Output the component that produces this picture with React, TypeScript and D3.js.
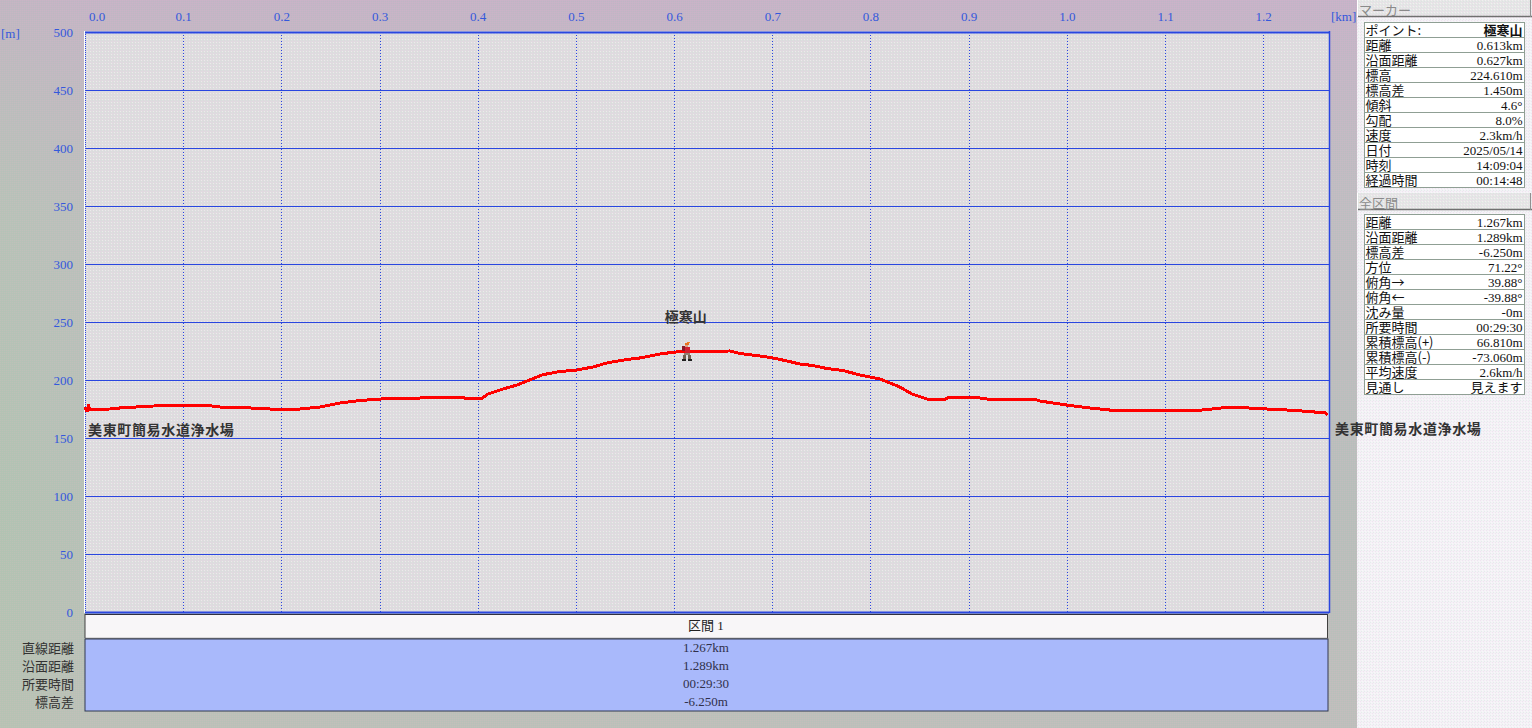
import React from "react";
import * as d3 from "d3";

const distanceKm = [0, 0.001, 0.0025, 0.0036, 0.0046, 0.0255, 0.0356, 0.0743, 0.0866, 0.1222, 0.1375, 0.168, 0.1884, 0.2189, 0.2393, 0.2597, 0.2804, 0.3004, 0.331, 0.3635, 0.3849, 0.387, 0.4043, 0.4104, 0.4257, 0.4399, 0.4501, 0.4664, 0.4837, 0.501, 0.5173, 0.5316, 0.5519, 0.5652, 0.5855, 0.6008, 0.613, 0.6568, 0.667, 0.6874, 0.7006, 0.7108, 0.7281, 0.7413, 0.7556, 0.7719, 0.7892, 0.8096, 0.8299, 0.8422, 0.8605, 0.8737, 0.8788, 0.9114, 0.9246, 0.9695, 0.9725, 1.0, 1.0234, 1.0438, 1.0876, 1.0896, 1.1273, 1.1436, 1.1578, 1.1843, 1.2118, 1.2322, 1.2525, 1.2627, 1.2658];
const elevationM = [176.7, 174.1, 174.1, 179.3, 174.6, 175, 175.9, 177.8, 178.4, 178.4, 176.7, 175.9, 175, 175, 176.7, 180.2, 182.3, 183.6, 184.1, 185.3, 185.3, 184.1, 184.1, 187.9, 192.2, 195.7, 199.1, 204.6, 207.3, 208.6, 211.2, 214.7, 217.7, 219, 222.4, 224.1, 224.6, 225, 222.8, 220.7, 219, 217.2, 213.8, 212.5, 209.9, 208.2, 204.3, 200.9, 194, 187.9, 182.8, 182.8, 184.5, 184.5, 182.8, 182.8, 181.9, 178.4, 175.9, 174.1, 174.1, 173.3, 173.3, 174.6, 175.9, 175.9, 174.6, 173.8, 172.4, 172.4, 169.8];

const xTicks = [0, 0.1, 0.2, 0.3, 0.4, 0.5, 0.6, 0.7, 0.8, 0.9, 1.0, 1.1, 1.2];
const yTicks = [0, 50, 100, 150, 200, 250, 300, 350, 400, 450, 500];

const markerRows: [string, string][] = [
  ["ポイント:", "極寒山"], ["距離", "0.613km"], ["沿面距離", "0.627km"], ["標高", "224.610m"],
  ["標高差", "1.450m"], ["傾斜", "4.6°"], ["勾配", "8.0%"], ["速度", "2.3km/h"],
  ["日付", "2025/05/14"], ["時刻", "14:09:04"], ["経過時間", "00:14:48"],
];
const totalRows: [string, string][] = [
  ["距離", "1.267km"], ["沿面距離", "1.289km"], ["標高差", "-6.250m"], ["方位", "71.22°"],
  ["俯角→", "39.88°"], ["俯角←", "-39.88°"], ["沈み量", "-0m"], ["所要時間", "00:29:30"],
  ["累積標高(+)", "66.810m"], ["累積標高(-)", "-73.060m"], ["平均速度", "2.6km/h"], ["見通し", "見えます"],
];
const sectionLabels = ["直線距離", "沿面距離", "所要時間", "標高差"];
const sectionValues = ["1.267km", "1.289km", "00:29:30", "-6.250m"];
const startName = "美東町簡易水道浄水場";
const peakName = "極寒山";
const peakKm = 0.613;
const peakM = 224.61;

const JP = '"Noto Sans CJK JP", sans-serif';
const NUM = '"Liberation Serif", "Noto Sans CJK JP", serif';
const AXIS = "#3458dc";
const GRID = "#2a46e0";

// small hiker glyph: [x, y, w, h, colour] around the marker foot point
const hiker: [number, number, number, number, string][] = [
  [0, -9, 3, 1, "#f08020"], [-2, -8, 4, 2, "#e87020"], [-2, -6, 3, 2, "#d8a080"],
  [-5, -5, 3, 5, "#8a1828"], [-2, -4, 5, 6, "#d02030"], [-3, 2, 6, 2, "#908070"],
  [-4, 4, 3, 4, "#706050"], [1, 4, 3, 4, "#706050"], [-5, 8, 4, 2, "#202020"], [1, 8, 4, 2, "#202020"],
];

function InfoTable({ rows, top, rowH }: { rows: [string, string][]; top: number; rowH: number }) {
  const left = 1364.5, right = 1524.5;
  return (
    <g>
      <rect x={left} y={top} width={right - left} height={rows.length * rowH} fill="#ffffff" stroke="#8f9f94" strokeWidth={1} />
      {rows.map((r, i) => {
        const y = top + i * rowH;
        const jpValue = /[^\x00-\x7f°]/.test(r[1]);
        return (
          <g key={r[0]}>
            {i > 0 && <line x1={left} x2={right} y1={y} y2={y} stroke="#8f9f94" />}
            <text x={left + 1} y={y + 12} fontFamily={JP} fontSize={13} fill="#111">{r[0]}</text>
            <text x={right - 2} y={y + 12} textAnchor="end" fontFamily={jpValue ? JP : NUM}
              fontSize={13} fontWeight={i === 0 && rows.length === 11 ? 700 : 400} fill="#111">{r[1]}</text>
          </g>
        );
      })}
    </g>
  );
}

function PanelHeader({ label, y, h }: { label: string; y: number; h: number }) {
  return (
    <g>
      <rect x={1357.5} y={y} width={174} height={h} fill="#e6e6e6" />
      <rect x={1357.5} y={y} width={174} height={h} fill="url(#dither2)" />
      <line x1={1358} x2={1532} y1={y + h - 0.5} y2={y + h - 0.5} stroke="#707070" strokeWidth={1.5} />
      <line x1={1530.5} x2={1530.5} y1={y} y2={y + h} stroke="#909090" />
      <line x1={1357.5} x2={1357.5} y1={y} y2={y + h} stroke="#ffffff" />
      <text x={1359} y={y + h - 2} fontFamily={JP} fontSize={13} fill="#8a8a8a">{label}</text>
    </g>
  );
}

export default function App() {
  const x = d3.scaleLinear().domain([0, 1.267]).range([85, 1329]);
  const y = d3.scaleLinear().domain([0, 500]).range([612, 32]);
  const line = d3.line<number>().x((d) => x(d)).y((_, i) => y(elevationM[i])).curve(d3.curveLinear);
  const px = x(peakKm), py = y(peakM);
  return (
    <svg width={1532} height={728} style={{ position: "absolute", left: 0, top: 0, display: "block" }}>
      <defs>
        <linearGradient id="bgH" x1="0" x2="1" y1="0" y2="0">
          <stop offset="0" stopColor="#b4c4b0" />
          <stop offset="0.06" stopColor="#bcc0b8" />
          <stop offset="1" stopColor="#c0bcc0" />
        </linearGradient>
        <linearGradient id="bgV" x1="0" x2="0" y1="0" y2="1">
          <stop offset="0" stopColor="#d0a8d0" stopOpacity={0.55} />
          <stop offset="0.3" stopColor="#c4bcc4" stopOpacity={0.3} />
          <stop offset="0.7" stopColor="#b0c0b0" stopOpacity={0.35} />
          <stop offset="1" stopColor="#c0c0b4" stopOpacity={0.4} />
        </linearGradient>
        <pattern id="dither" width={2} height={2} patternUnits="userSpaceOnUse">
          <rect width={1} height={1} fill="#d8c0d0" fillOpacity={0.2} />
          <rect x={1} y={1} width={1} height={1} fill="#a0c8c0" fillOpacity={0.25} />
        </pattern>
        <pattern id="dither2" width={3} height={3} patternUnits="userSpaceOnUse">
          <rect width={1} height={1} fill="#ffffff" fillOpacity={0.4} />
          <rect x={2} y={1} width={1} height={1} fill="#c8e0d8" fillOpacity={0.35} />
          <rect x={1} y={2} width={1} height={1} fill="#e8c8e8" fillOpacity={0.35} />
        </pattern>
      </defs>
      <rect width={1532} height={728} fill="url(#bgH)" />
      <rect width={1532} height={728} fill="url(#bgV)" />
      <rect width={1532} height={728} fill="url(#dither)" />

      {/* plot background */}
      <rect x={84} y={31} width={1246} height={582} fill="#dedcde" />
      <rect x={84} y={31} width={1246} height={582} fill="url(#dither2)" />

      {/* grid */}
      {yTicks.map((t) => (
        <line key={t} x1={85} x2={1329} y1={Math.round(y(t)) + 0.5} y2={Math.round(y(t)) + 0.5} stroke={GRID} strokeWidth={t === 0 || t === 500 ? 2 : 1} />
      ))}
      {xTicks.slice(1).map((t) => (
        <line key={t} x1={Math.round(x(t)) + 0.5} x2={Math.round(x(t)) + 0.5} y1={32} y2={612} stroke={GRID} strokeWidth={1} strokeDasharray="1 2" />
      ))}
      <line x1={84.5} x2={84.5} y1={31} y2={613} stroke="#ffffff" />
      <line x1={85.5} x2={85.5} y1={32} y2={612} stroke={GRID} strokeDasharray="1 1" />
      <line x1={1329.5} x2={1329.5} y1={31} y2={613} stroke={GRID} strokeWidth={1.5} />

      {/* axes */}
      {xTicks.map((t) => (
        <text key={t} x={t === 0 ? 97 : x(t) + 0.5} y={21} textAnchor="middle" fontFamily={NUM} fontSize={13} fill={AXIS}>{t.toFixed(1)}</text>
      ))}
      {yTicks.map((t) => (
        <text key={t} x={73} y={y(t) + 4.5} textAnchor="end" fontFamily={NUM} fontSize={13} fill={AXIS}>{t}</text>
      ))}
      <text x={1} y={38} fontFamily={NUM} fontSize={13} fill={AXIS}>[m]</text>
      <text x={1331} y={21} fontFamily={NUM} fontSize={13} fill={AXIS}>[km]</text>

      {/* profile */}
      <path d={line(distanceKm) ?? ""} fill="none" stroke="#ff0000" strokeWidth={3} shapeRendering="crispEdges" />

      {/* marker */}
      <g transform={`translate(${Math.round(px)},${Math.round(py)})`} shapeRendering="crispEdges">
        {hiker.map((r, i) => <rect key={i} x={r[0]} y={r[1]} width={r[2]} height={r[3]} fill={r[4]} />)}
      </g>
      <text x={px - 1} y={322} textAnchor="middle" fontFamily={JP} fontSize={14} fontWeight={700} fill="#333">{peakName}</text>
      <text x={88} y={435} fontFamily={JP} fontSize={14} fontWeight={700} letterSpacing={0.65} fill="#333">{startName}</text>

      {/* section strip */}
      <rect x={85} y={614} width={1243} height={24} fill="#f8f6f8" />
      <line x1={85} x2={1328} y1={614.5} y2={614.5} stroke="#303040" />
      <line x1={85} x2={1328} y1={638.5} y2={638.5} stroke="#808080" strokeWidth={1.5} />
      <line x1={1327.5} x2={1327.5} y1={614} y2={638} stroke="#404040" />
      <line x1={85} x2={85} y1={614} y2={638} stroke="#404040" />
      <text x={706} y={630} textAnchor="middle" fontFamily={NUM} fontSize={13} fill="#222">区間 1</text>
      <rect x={85} y={639} width={1243} height={72} fill="#a9b9fb" stroke="#303850" strokeWidth={1} />
      {sectionLabels.map((l, i) => (
        <text key={l} x={74} y={653 + i * 18} textAnchor="end" fontFamily={JP} fontSize={13} fill="#333">{l}</text>
      ))}
      {sectionValues.map((v, i) => (
        <text key={v} x={706} y={652 + i * 18} textAnchor="middle" fontFamily={NUM} fontSize={13} fill="#30304a">{v}</text>
      ))}

      {/* right panel */}
      <rect x={1357} y={0} width={175} height={728} fill="#f4f2f6" />
      <rect x={1357} y={0} width={175} height={728} fill="url(#dither2)" />
      <PanelHeader label="マーカー" y={0} h={17} />
      <PanelHeader label="全区間" y={193} h={17} />
      <InfoTable rows={markerRows} top={22.5} rowH={15} />
      <InfoTable rows={totalRows} top={214.5} rowH={15} />
      <text x={1335} y={434} fontFamily={JP} fontSize={14} fontWeight={700} letterSpacing={0.65} fill="#333">{startName}</text>
    </svg>
  );
}
